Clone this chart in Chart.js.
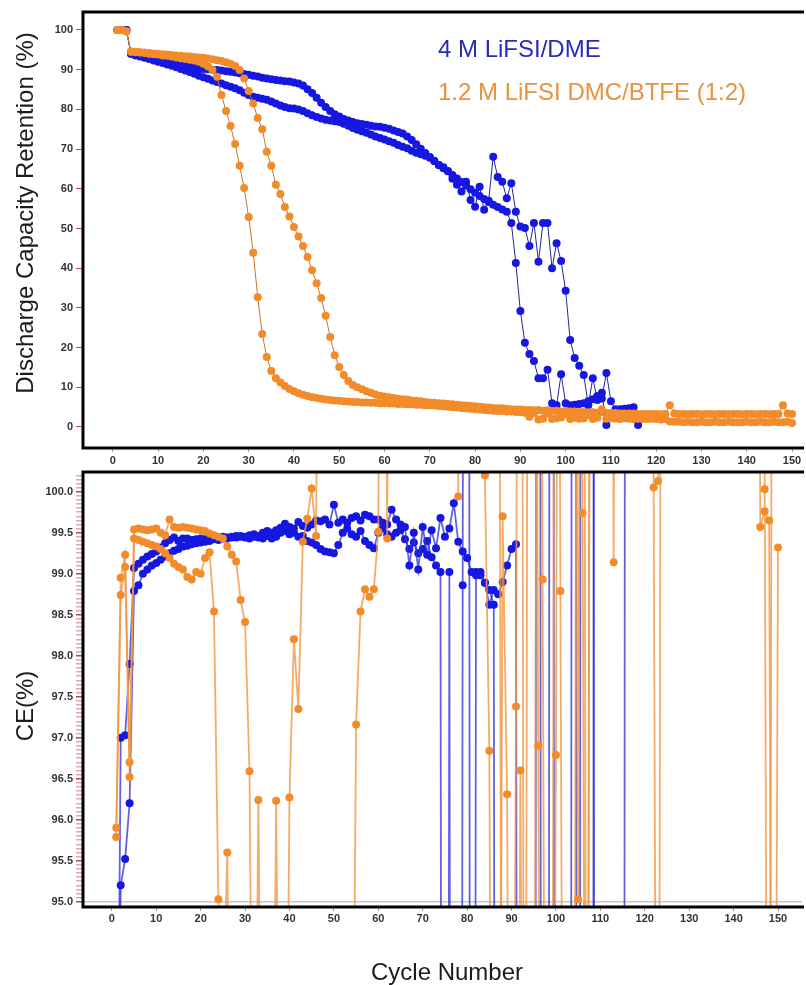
<!DOCTYPE html>
<html>
<head>
<meta charset="utf-8">
<title>Capacity retention and CE</title>
<script src="https://cdn.jsdelivr.net/npm/chart.js@4.4.1/dist/chart.umd.min.js"></script>
<style>
  body { margin: 0; background: #fff; }
  #wrap { position: relative; width: 806px; height: 985px; overflow: hidden; }
  canvas { position: absolute; left: 0; }
  #capacity { top: 0; }
  #ce { top: 462px; }
  .t { position: absolute; font: 24px Arial, "Liberation Sans", sans-serif; line-height: 24px; white-space: nowrap; color: #1c1c1c; }
  .ytitle { transform: translate(-50%, -50%) rotate(-90deg); }
  .xtitle { transform: translate(-50%, -50%); }
</style>
</head>
<body>
<div id="wrap">
  <canvas id="capacity" width="806" height="470"></canvas>
  <canvas id="ce" width="806" height="523"></canvas>
  <div class="t ytitle" style="left:24.7px; top:213px;">Discharge Capacity Retention (%)</div>
  <div class="t ytitle" style="left:24.7px; top:705.5px;">CE(%)</div>
  <div class="t xtitle" style="left:447px; top:971.7px;">Cycle Number</div>
  <div class="t" style="left:438px; top:36.7px; color:#2a2ab6;">4 M LiFSI/DME</div>
  <div class="t" style="left:438px; top:79.7px; color:#e8923e;">1.2 M LiFSI DMC/BTFE (1:2)</div>
</div>
<script>
// tick labels
const cycleTicks = [0, 10, 20, 30, 40, 50, 60, 70, 80, 90, 100, 110, 120, 130, 140, 150];
const retentionTicks = [0, 10, 20, 30, 40, 50, 60, 70, 80, 90, 100];
const ceTicks = [95.0, 95.5, 96.0, 96.5, 97.0, 97.5, 98.0, 98.5, 99.0, 99.5, 100.0];

// discharge capacity retention (%), one value per cycle starting at cycle 1
const dmeRetention1 = [
  100, 100, 100, 94.0, 93.7, 93.5, 93.3, 93.0, 92.8, 92.5,
  92.3, 92.0, 91.8, 91.5, 91.3, 91.0, 90.8, 90.6, 90.3, 90.2,
  90.1, 90.0, 89.9, 89.8, 89.6, 89.5, 89.3, 89.1, 88.9, 88.7,
  88.5, 88.3, 88.0, 87.8, 87.6, 87.4, 87.3, 87.1, 87.0, 86.8,
  86.5, 86.0, 85.1, 84.1, 82.9, 81.7, 80.6, 79.6, 78.8, 78.2,
  77.6, 77.2, 76.8, 76.5, 76.3, 76.1, 75.9, 75.7, 75.6, 75.4,
  75.1, 74.7, 74.3, 73.9, 73.2, 72.3, 71.2, 70.1, 69.0, 68.0,
  67.0, 66.0, 65.2, 64.4, 63.5, 62.6, 61.7, 60.8, 59.9, 59.0,
  58.2, 57.4, 56.7, 56.0, 55.4, 54.8, 54.2, 51.4, 41.3, 29.2,
  21.2, 18.4, 16.6, 12.3, 12.3, 14.4, 6.0, 5.5, 13.3, 6.0,
  5.5, 5.6, 5.8, 6.0, 6.5, 7.0, 7.8, 8.6, 0.5
];
const dmeRetention2 = [
  100, 100, 100, 94.0, 93.6, 93.3, 93.0, 92.7, 92.3, 92.0,
  91.7, 91.3, 91.0, 90.6, 90.2, 89.8, 89.4, 89.0, 88.5, 88.1,
  87.7, 87.3, 86.9, 86.5, 86.1, 85.7, 85.3, 84.8, 84.2, 83.6,
  83.2, 82.9, 82.7, 82.4, 82.0, 81.5, 81.0, 80.6, 80.3, 80.2,
  80.0, 79.6, 79.0, 78.5, 78.1, 77.7, 77.4, 77.2, 77.0, 76.8,
  76.4, 75.9, 75.3, 74.9, 74.5, 74.1, 73.7, 73.2, 72.8, 72.4,
  72.0, 71.6, 71.0, 70.6, 70.2, 69.6, 69.1, 68.7, 68.3, 67.8,
  67.0, 66.0, 65.4, 64.5, 62.5, 61.0, 59.3, 61.8, 57.2, 55.5,
  60.5, 54.7, 57.0, 68.1, 63.0, 61.8, 57.6, 61.4, 54.2, 50.5,
  50.1, 45.6, 51.4, 41.6, 51.4, 51.4, 40.0, 46.3, 41.8, 34.3,
  21.9, 17.4, 15.4, 13.1, 5.5, 12.3, 6.8, 7.2, 13.6, 6.5,
  4.5, 4.5, 4.6, 4.7, 5.0, 0.5
];
const btfeRetention1 = [
  100, 100, 99.6, 94.5, 94.4, 94.3, 94.2, 94.0, 93.9, 93.8,
  93.6, 93.5, 93.3, 93.1, 92.9, 92.7, 92.5, 92.3, 92.0, 91.5,
  90.8, 89.9, 88.2, 83.6, 79.6, 75.8, 71.3, 65.8, 60.2, 52.9,
  43.9, 32.7, 23.4, 17.6, 14.1, 12.3, 11.2, 10.3, 9.6, 9.0,
  8.5, 8.1, 7.8, 7.5, 7.3, 7.1, 6.9, 6.8, 6.7, 6.6,
  6.5, 6.4, 6.3, 6.3, 6.2, 6.2, 6.1, 6.1, 6.0, 6.0,
  5.9, 5.9, 5.8, 5.8, 5.7, 5.7, 5.6, 5.6, 5.5, 5.5,
  5.4, 5.3, 5.2, 5.1, 5.0, 4.9, 4.8, 4.7, 4.6, 4.5,
  4.4, 4.3, 4.2, 4.1, 4.0, 4.0, 3.9, 3.9, 3.8, 3.7,
  3.6, 2.6, 3.5, 1.9, 2.1, 3.4, 2.0, 2.2, 2.4, 3.3,
  2.0, 2.3, 2.1, 2.2, 3.0, 2.0, 2.3, 4.5, 2.1, 2.2,
  2.1, 2.0, 2.2, 2.1, 2.0, 2.1, 2.0, 2.0, 2.1, 2.0,
  1.9, 2.0, 1.4, 1.3, 1.3, 1.2, 1.3, 1.2, 1.2, 1.3,
  1.2, 1.2, 1.3, 1.2, 1.2, 1.3, 1.2, 1.2, 1.2, 1.3,
  1.2, 1.2, 1.3, 1.2, 1.2, 1.3, 1.2, 1.2, 1.3, 1.0
];
const btfeRetention2 = [
  100, 100, 99.7, 94.6, 94.5, 94.4, 94.3, 94.2, 94.1, 94.0,
  93.9, 93.8, 93.7, 93.6, 93.5, 93.4, 93.3, 93.2, 93.1, 93.0,
  92.8, 92.6, 92.4, 92.2, 91.9, 91.5, 90.9, 89.9, 87.8, 84.6,
  81.5, 77.8, 75.0, 69.3, 65.8, 61.0, 58.7, 55.4, 53.0, 50.4,
  48.0, 45.6, 42.8, 39.5, 36.2, 32.5, 28.0, 22.7, 18.1, 15.1,
  13.1, 11.6, 10.6, 10.0, 9.5, 9.0, 8.6, 8.2, 7.9, 7.7,
  7.5, 7.3, 7.1, 7.0, 6.9, 6.7, 6.6, 6.5, 6.3, 6.2,
  6.1, 6.0, 5.9, 5.8, 5.7, 5.6, 5.5, 5.4, 5.3, 5.2,
  5.1, 5.0, 4.9, 4.8, 4.7, 4.7, 4.6, 4.5, 4.4, 4.4,
  4.3, 4.3, 4.2, 4.3, 4.1, 4.2, 4.0, 4.1, 3.9, 4.0,
  3.9, 3.9, 3.8, 3.8, 3.7, 3.7, 3.6, 3.8, 3.5, 3.5,
  3.5, 3.4, 3.4, 3.4, 3.4, 3.3, 3.3, 3.3, 3.3, 3.3,
  3.2, 3.3, 5.5, 3.4, 3.3, 3.3, 3.2, 3.3, 3.3, 3.2,
  3.3, 3.3, 3.2, 3.3, 3.3, 3.2, 3.3, 3.3, 3.2, 3.3,
  3.3, 3.2, 3.3, 3.3, 3.2, 3.3, 3.3, 5.5, 3.4, 3.3
];

// coulombic efficiency (%), one value per cycle starting at cycle 1
const dmeCE1 = [
  90, 95.20, 95.52, 96.20, 98.79, 98.86, 99.00, 99.05, 99.10, 99.13,
  99.17, 99.21, 99.25, 99.28, 99.30, 99.33, 99.34, 99.36, 99.37, 99.38,
  99.39, 99.40, 99.42, 99.41, 99.43, 99.44, 99.45, 99.44, 99.46, 99.45,
  99.47, 99.48, 99.46, 99.50, 99.52, 99.50, 99.53, 99.56, 99.61, 99.57,
  99.55, 99.63, 99.58, 99.56, 99.60, 99.65, 99.64, 99.66, 99.60, 99.84,
  99.62, 99.66, 99.62, 99.68, 99.70, 99.65, 99.72, 99.70, 99.66, 99.66,
  99.62, 99.60, 99.78, 99.66, 99.60, 99.57, 99.10, 99.50, 99.05, 99.57,
  99.23, 99.53, 99.31, 99.68, 99.45, 99.55, 99.86, 99.39, 99.27, 99.19,
  99.02, 98.98, 99.02, 98.89, 98.62, 98.80, 98.75, 98.90, 99.10, 99.30,
  99.36, 60, 60, 60, 60, 60, 60, 60, 60, 60,
  60, 60, 60, 140, 60, 60, 60, 60, 140
];
const dmeCE2 = [
  90, 97.00, 97.03, 97.90, 99.07, 99.12, 99.17, 99.21, 99.24, 99.27,
  99.32, 99.37, 99.41, 99.44, 99.40, 99.43, 99.43, 99.41, 99.42, 99.43,
  99.42, 99.43, 99.44, 99.42, 99.45, 99.43, 99.44, 99.46, 99.45, 99.44,
  99.43, 99.45, 99.44, 99.43, 99.46, 99.43, 99.45, 99.50, 99.52, 99.48,
  99.50, 99.45, 99.46, 99.40, 99.38, 99.35, 99.30, 99.27, 99.26, 99.25,
  99.35, 99.50, 99.55, 99.48, 99.45, 99.52, 99.40, 99.35, 99.31, 99.50,
  99.55, 99.48, 99.45, 99.50, 99.53, 99.42, 99.30, 99.38, 99.25, 99.30,
  99.40, 99.20, 99.10, 99.02, 60, 99.02, 60, 60, 98.86, 140,
  60, 99.02, 98.98, 98.89, 98.80, 98.62, 60, 60, 60, 60,
  60, 60, 60, 60, 60, 140, 60, 60, 140, 60,
  60, 60, 60, 60, 60, 140, 140, 140, 60, 60,
  60, 60, 60, 60, 60, 140
];
const btfeCE1 = [
  95.79, 98.74, 99.08, 96.52, 99.43, 99.41, 99.39, 99.37, 99.35, 99.33,
  99.30, 99.25, 99.19, 99.12, 99.08, 99.05, 98.96, 98.93, 99.02, 99.00,
  99.19, 99.26, 98.54, 95.03, 93.5, 95.60, 90, 90, 90, 90,
  90, 90, 90, 90, 90, 90, 96.23, 90, 90, 96.27,
  98.20, 97.35, 99.39, 99.67, 100.04, 99.46, 110, 110, 110, 110,
  110, 110, 110, 110, 110, 110, 110, 110, 110, 110,
  110, 99.43, 110, 110, 110, 110, 110, 110, 110, 110,
  110, 110, 110, 110, 110, 110, 110, 99.94, 110, 110,
  110, 110, 110, 100.2, 96.84, 85, 85, 99.70, 96.31, 85,
  85, 96.60, 85, 115, 115, 96.90, 85, 85, 85, 96.79,
  115, 115, 115, 115, 95.03, 115, 85, 115, 115, 115,
  115, 115, 99.14, 115, 115, 115, 115, 115, 115, 115,
  115, 100.05, 85, 115, 115, 115, 115, 115, 115, 115,
  115, 115, 115, 115, 115, 115, 115, 115, 115, 115,
  115, 115, 115, 115, 115, 99.57, 99.76, 99.65, 85, 99.32
];
const btfeCE2 = [
  95.90, 98.95, 99.23, 96.70, 99.54, 99.55, 99.54, 99.53, 99.54, 99.55,
  99.50, 99.47, 99.66, 99.57, 99.56, 99.57, 99.56, 99.55, 99.54, 99.53,
  99.52, 99.49, 99.47, 99.45, 99.43, 99.33, 99.23, 99.15, 98.68, 98.41,
  96.59, 90, 96.24, 90, 90, 90, 90, 90, 90, 90,
  90, 90, 90, 90, 90, 90, 90, 90, 90, 90,
  90, 90, 90, 90, 97.16, 98.54, 98.81, 98.72, 98.81, 99.51,
  110, 110, 110, 110, 110, 110, 110, 110, 110, 110,
  110, 110, 110, 110, 110, 110, 110, 110, 110, 110,
  110, 110, 110, 110, 110, 110, 110, 85, 85, 85,
  97.38, 115, 85, 85, 85, 115, 98.93, 85, 85, 115,
  98.79, 85, 85, 85, 115, 99.74, 85, 115, 115, 115,
  115, 115, 115, 115, 115, 115, 115, 115, 115, 115,
  115, 115, 100.13, 115, 115, 115, 115, 115, 115, 115,
  115, 115, 115, 115, 115, 115, 115, 115, 115, 115,
  115, 115, 115, 115, 115, 115, 100.03, 85, 115, 115
];

const FONT = 'Arial, "Liberation Sans", sans-serif';
const BLUE = '#1717e2';
const ORANGE = '#f28b2a';

Chart.defaults.font.family = FONT;

function toPoints(values) {
  return values.map((v, i) => ({ x: i + 1, y: v }));
}

function fixedTicks(list) {
  return scale => { scale.ticks = list.map(v => ({ value: v })); };
}

// heavy black box on top, left and bottom of the plot area
const frame = {
  id: 'frame',
  afterDraw(chart) {
    const { ctx, chartArea: a } = chart;
    ctx.save();
    ctx.strokeStyle = '#000';
    ctx.lineWidth = 3;
    ctx.beginPath();
    ctx.moveTo(a.right + 2, a.top);
    ctx.lineTo(a.left, a.top);
    ctx.lineTo(a.left, a.bottom);
    ctx.lineTo(a.right + 2, a.bottom);
    ctx.stroke();
    ctx.restore();
  }
};

const tickFont = { family: FONT, size: 11, weight: 'bold' };

function retentionSet(values, dot, line) {
  return {
    data: toPoints(values),
    showLine: true,
    borderColor: line,
    borderWidth: 1,
    pointRadius: 4,
    pointBackgroundColor: dot,
    pointBorderColor: dot,
    pointBorderWidth: 0
  };
}

function ceSet(values, dot, line) {
  return {
    data: toPoints(values),
    showLine: true,
    borderColor: line,
    borderWidth: 1.8,
    pointRadius: 4,
    pointBackgroundColor: dot,
    pointBorderColor: dot,
    pointBorderWidth: 0
  };
}

new Chart(document.getElementById('capacity'), {
  type: 'scatter',
  data: {
    datasets: [
      retentionSet(btfeRetention1, ORANGE, '#c9762a'),
      retentionSet(btfeRetention2, ORANGE, '#c9762a'),
      retentionSet(dmeRetention1, BLUE, '#23239a'),
      retentionSet(dmeRetention2, BLUE, '#23239a')
    ]
  },
  options: {
    responsive: false,
    animation: false,
    events: [],
    layout: { padding: { top: 12, right: 0, bottom: 0, left: 0 } },
    plugins: { legend: { display: false }, tooltip: { enabled: false } },
    scales: {
      x: {
        type: 'linear',
        min: -6.59,
        max: 152.2,
        afterBuildTicks: fixedTicks(cycleTicks),
        afterFit: s => { s.height = 22; },
        border: { display: false },
        grid: { drawOnChartArea: false, tickLength: 4, tickColor: '#999' },
        ticks: { font: tickFont, color: '#333', padding: 2, autoSkip: false, maxRotation: 0 }
      },
      y: {
        type: 'linear',
        min: -5.29,
        max: 104.53,
        afterBuildTicks: fixedTicks(retentionTicks),
        afterFit: s => { s.width = 83; },
        border: { display: false },
        grid: { drawOnChartArea: false, tickLength: 7, tickColor: '#c8464b' },
        ticks: { font: tickFont, color: '#333', padding: 3, autoSkip: false }
      }
    }
  },
  plugins: [frame]
});

// CE axis: labels every 0.5, small marks every 0.05
const ceMarks = [];
for (let k = 9500; k <= 10020; k += 5) ceMarks.push(k / 100);
const isMajor = v => ceTicks.some(t => Math.abs(t - v) < 1e-6);

new Chart(document.getElementById('ce'), {
  type: 'scatter',
  data: {
    datasets: [
      ceSet(btfeCE1, ORANGE, 'rgba(240,150,62,0.8)'),
      ceSet(btfeCE2, ORANGE, 'rgba(240,150,62,0.8)'),
      ceSet(dmeCE1, BLUE, 'rgba(45,45,215,0.75)'),
      ceSet(dmeCE2, BLUE, 'rgba(45,45,215,0.75)')
    ]
  },
  options: {
    responsive: false,
    animation: false,
    events: [],
    layout: { padding: { top: 10, right: 0, bottom: 56, left: 0 } },
    plugins: { legend: { display: false }, tooltip: { enabled: false } },
    scales: {
      x: {
        type: 'linear',
        min: -6.49,
        max: 155.4,
        afterBuildTicks: fixedTicks(cycleTicks),
        afterFit: s => { s.height = 22; },
        border: { display: false },
        grid: { drawOnChartArea: false, tickLength: 4, tickColor: '#999' },
        ticks: { font: tickFont, color: '#333', padding: 1, autoSkip: false, maxRotation: 0 }
      },
      y: {
        type: 'linear',
        min: 94.935,
        max: 100.24,
        afterBuildTicks: fixedTicks(ceMarks),
        afterFit: s => { s.width = 83; },
        border: { display: false },
        grid: {
          drawOnChartArea: true,
          tickLength: 7,
          lineWidth: 1.5,
          color: c => (c.tick && Math.abs(c.tick.value - 95) < 1e-6) ? '#c6c6c6' : 'rgba(0,0,0,0)',
          tickColor: c => (c.tick && isMajor(c.tick.value)) ? '#b8484e' : '#e2a6ae'
        },
        ticks: {
          font: tickFont,
          color: '#333',
          padding: 3,
          autoSkip: false,
          callback: v => isMajor(v) ? v.toFixed(1) : ''
        }
      }
    }
  },
  plugins: [frame]
});
</script>
</body>
</html>
